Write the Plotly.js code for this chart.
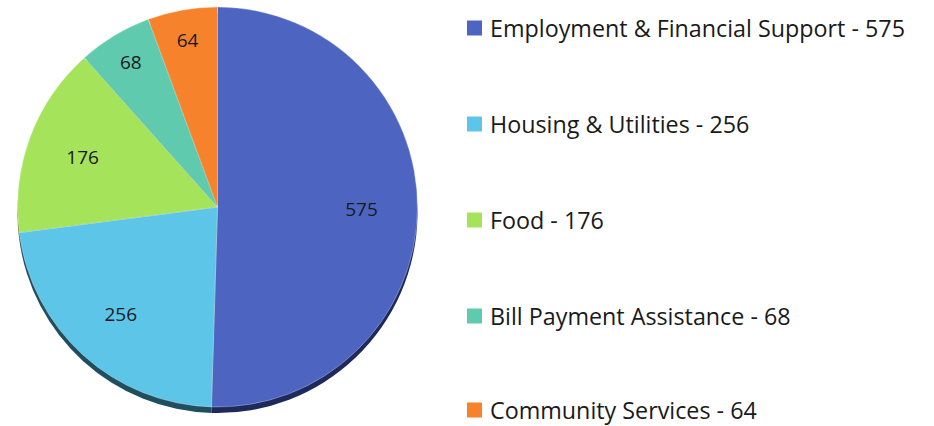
<!DOCTYPE html>
<html>
<head>
<meta charset="utf-8">
<script src="https://cdn.plot.ly/plotly-3.0.1.min.js"></script>
<style>html,body{margin:0;padding:0;background:#fff}#chart{width:934px;height:426px}</style>
</head>
<body>
<div id="chart"></div>
<script>
const categories = ["Employment & Financial Support", "Housing & Utilities", "Food", "Bill Payment Assistance", "Community Services"];
const values = [575, 256, 176, 68, 64];
const colors = ["#4d65c1", "#5dc5e8", "#a5e45a", "#5fcaae", "#f6832b"];
const shadowColors = ["#1f2a5c", "#1f4f5e", "#3f5a22", "#24524a", "#6a3812"];

const W = 934, H = 426;
const px = v => v / W;
const py = v => 1 - v / H;

const FONT = "Open Sans, sans-serif";
const pieDomain = {x: [px(15), px(420)], y: [py(407), py(7)]};

const shadow = {
  type: "pie", values: values, labels: categories, sort: false,
  direction: "clockwise", rotation: 0,
  marker: {colors: shadowColors, line: {width: 0}},
  textinfo: "none", hoverinfo: "skip", showlegend: false,
  domain: {x: pieDomain.x, y: [py(413), py(13)]}
};
const pie = {
  type: "pie", values: values, labels: categories, sort: false,
  direction: "clockwise", rotation: 0,
  marker: {colors: colors, line: {width: 0.5, color: "rgba(255,255,255,0.6)"}},
  textinfo: "none", showlegend: false,
  domain: pieDomain
};
const labelRing = {
  type: "pie", values: values, labels: categories, sort: false,
  direction: "clockwise", rotation: 0, hole: 0.44,
  marker: {colors: values.map(() => "rgba(0,0,0,0)"), line: {width: 0}},
  textinfo: "value", textposition: "inside", insidetextorientation: "horizontal",
  textfont: {family: FONT, size: 19, color: "#1a1a1a"},
  hoverinfo: "skip", showlegend: false,
  domain: pieDomain
};

const legendY = [28, 124, 220, 316, 410];
const annotations = categories.map((c, i) => ({
  xref: "paper", yref: "paper", x: px(488), y: py(legendY[i]),
  xanchor: "left", yanchor: "middle", showarrow: false,
  text: c + " - " + values[i],
  font: {family: FONT, size: 23.3, color: "#1a1a1a"}
}));
const shapes = categories.map((c, i) => ({
  type: "rect", xref: "paper", yref: "paper",
  x0: px(467), x1: px(482), y0: py(legendY[i] - 7.5), y1: py(legendY[i] + 7.5),
  fillcolor: colors[i], line: {width: 0}
}));

Plotly.newPlot("chart", [shadow, pie, labelRing], {
  width: W, height: H,
  margin: {l: 0, r: 0, t: 0, b: 0},
  paper_bgcolor: "#fff",
  annotations: annotations, shapes: shapes,
  showlegend: false
}, {displayModeBar: false, staticPlot: true});
</script>
</body>
</html>
